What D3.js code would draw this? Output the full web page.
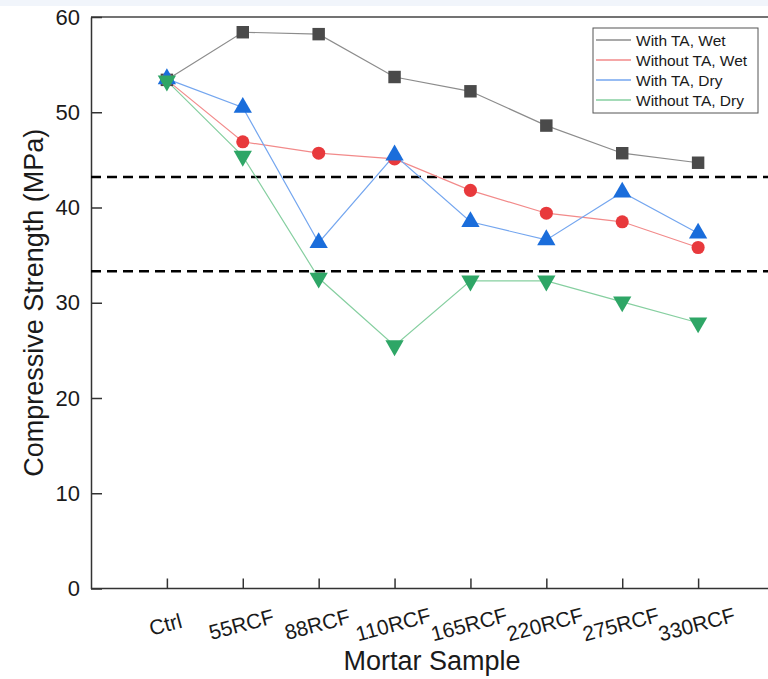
<!DOCTYPE html>
<html>
<head>
<meta charset="utf-8">
<script src="https://cdn.jsdelivr.net/npm/d3@7"></script>
<style>
  body{margin:0;background:#fff;font-family:Arial,"Liberation Sans",sans-serif;}
  svg{display:block;}
</style>
</head>
<body>
<div id="container"></div>
<script>
var samples = ["Ctrl","55RCF","88RCF","110RCF","165RCF","220RCF","275RCF","330RCF"];
var yTicks = [0,10,20,30,40,50,60];
var wetTA    = [53.4,58.4,58.2,53.7,52.2,48.6,45.7,44.7];
var wetNoTA  = [53.4,46.9,45.7,45.1,41.8,39.4,38.5,35.8];
var dryTA    = [53.5,50.5,36.3,45.5,38.5,36.6,41.6,37.3];
var dryNoTA  = [53.3,45.4,32.6,25.5,32.3,32.3,30.1,27.9];
var refLines = [43.2,33.3];
var seriesNames = ["With TA, Wet","Without TA, Wet","With TA, Dry","Without TA, Dry"];

var series = [
  {name:seriesNames[0], vals:wetTA,   line:"#8c8c8c", fill:"#4a4a4a", sym:d3.symbolSquare,   size:155, rot:0},
  {name:seriesNames[1], vals:wetNoTA, line:"#f28a8a", fill:"#e8393c", sym:d3.symbolCircle,   size:135, rot:0},
  {name:seriesNames[2], vals:dryTA,   line:"#74a6ef", fill:"#1a6ddb", sym:d3.symbolTriangle, size:145, rot:0},
  {name:seriesNames[3], vals:dryNoTA, line:"#86cfa0", fill:"#2ea666", sym:d3.symbolTriangle, size:145, rot:180}
];

var W = 768, H = 679;
var FONT = "Arial,'Liberation Sans',sans-serif";
var svg = d3.select("#container").append("svg").attr("width",W).attr("height",H);

// light strip at the very top
svg.append("rect").attr("x",0).attr("y",0).attr("width",W).attr("height",6).attr("fill","#f1f5fb");

var x = d3.scaleLinear().domain([0,9]).range([91,774]);
var y = d3.scaleLinear().domain([0,60]).range([588.5,17]);

// frame top + axes
svg.append("line").attr("x1",x(0)).attr("x2",W).attr("y1",y(60)).attr("y2",y(60))
  .attr("stroke","#444").attr("stroke-width",1.5);

var yAxis = d3.axisLeft(y).tickValues(yTicks).tickSizeInner(-11).tickSizeOuter(0).tickPadding(11);
var gy = svg.append("g").attr("transform","translate("+x(0)+",0)").call(yAxis);
gy.select(".domain").attr("stroke","#333").attr("stroke-width",1.5);
gy.selectAll(".tick line").attr("stroke","#333").attr("stroke-width",1.5);
gy.selectAll(".tick text").attr("font-size",22).attr("fill","#1a1a1a").attr("font-family",FONT);

var xAxis = d3.axisBottom(x).tickValues(d3.range(1,samples.length+1))
  .tickFormat(function(d){return samples[d-1];}).tickSizeInner(-10).tickSizeOuter(0);
var gx = svg.append("g").attr("transform","translate(0,"+y(0)+")").call(xAxis);
gx.select(".domain").attr("stroke","#333").attr("stroke-width",1.5).attr("d","M"+x(0)+",0H"+W);
gx.selectAll(".tick line").attr("stroke","#333").attr("stroke-width",1.5);
gx.selectAll(".tick text")
  .attr("font-size",21).attr("fill","#1a1a1a").attr("font-family",FONT)
  .attr("text-anchor","middle").attr("dy",0).attr("y",0)
  .attr("transform","translate(0,43) rotate(-15)");

// dashed reference lines
svg.selectAll(".ref").data(refLines).enter().append("line")
  .attr("x1",x(0)).attr("x2",W).attr("y1",d=>y(d)).attr("y2",d=>y(d))
  .attr("stroke","#000").attr("stroke-width",2.5).attr("stroke-dasharray","10,6");

var line = d3.line().x((d,i)=>x(i+1)).y(d=>y(d));

series.forEach(function(s){
  svg.append("path").datum(s.vals).attr("d",line)
    .attr("fill","none").attr("stroke",s.line).attr("stroke-width",1.2);
});
series.forEach(function(s){
  svg.selectAll(null).data(s.vals).enter().append("path")
    .attr("d",d3.symbol().type(s.sym).size(s.size))
    .attr("transform",(d,i)=>"translate("+x(i+1)+","+y(d)+") rotate("+s.rot+")")
    .attr("fill",s.fill);
});

// axis titles
svg.append("text").attr("x",432).attr("y",670).attr("text-anchor","middle")
  .attr("font-size",27).attr("fill","#1a1a1a").attr("font-family",FONT).text("Mortar Sample");
svg.append("text").attr("transform","translate(43,"+y(30)+") rotate(-90)").attr("text-anchor","middle")
  .attr("font-size",27).attr("fill","#1a1a1a").attr("font-family",FONT).text("Compressive Strength (MPa)");

// legend
var lg = svg.append("g").attr("transform","translate(593,28)");
lg.append("rect").attr("width",165).attr("height",85).attr("fill","#fff")
  .attr("stroke","#555").attr("stroke-width",1);
series.forEach(function(s,i){
  var yy = 12 + i*20;
  lg.append("line").attr("x1",3).attr("x2",38).attr("y1",yy).attr("y2",yy)
    .attr("stroke",s.line).attr("stroke-width",1.3);
  lg.append("text").attr("x",43).attr("y",yy+5.5).attr("font-size",15.5).attr("fill","#1a1a1a")
    .attr("font-family",FONT).text(s.name);
});
</script>
</body>
</html>
